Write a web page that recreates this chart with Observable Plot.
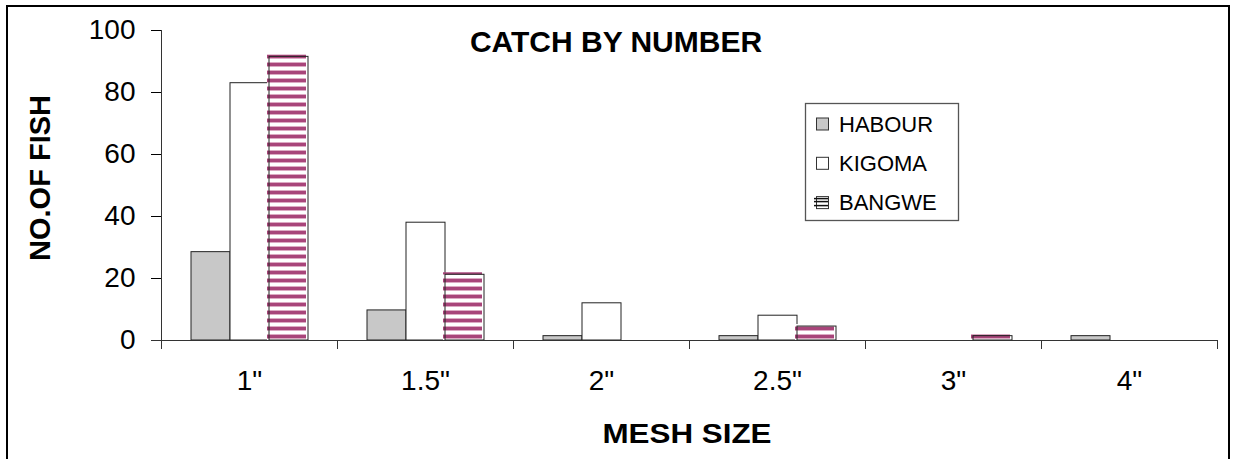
<!DOCTYPE html>
<html>
<head>
<meta charset="utf-8">
<script src="https://cdn.jsdelivr.net/npm/d3@7"></script>
<script src="https://cdn.jsdelivr.net/npm/@observablehq/plot@0.6"></script>
<style>
  html, body { margin: 0; padding: 0; background: #fff; }
</style>
</head>
<body>
<div id="chart"></div>
<script>
// Catch by number per mesh size, for three landing sites
const meshSizes = ['1"', '1.5"', '2"', '2.5"', '3"', '4"'];
const habour = [28.5, 9.7, 1.4, 1.4, 0, 1.4];
const kigoma = [83, 38, 12, 8, 0, 0];
const bangwe = [91.5, 21.2, 0, 4.5, 1.4, 0];
const siteNames = ["HABOUR", "KIGOMA", "BANGWE"];
const yTicks = [0, 20, 40, 60, 80, 100];

// long table: one row per non-empty bar
const rows = [];
[habour, kigoma, bangwe].forEach((vals, s) =>
  vals.forEach((v, i) => {
    if (v > 0) rows.push({ mesh: meshSizes[i], site: siteNames[s], count: v });
  })
);
const ofSite = name => rows.filter(d => d.site === name);

const font = '"Liberation Sans", Arial, Helvetica, sans-serif';

const plot = Plot.plot({
  width: 1233,
  height: 459,
  marginLeft: 160,
  marginRight: 15,
  marginTop: 30,
  marginBottom: 119,
  style: { fontFamily: font, fontSize: "28px", color: "#000", background: "#fff" },
  fx: { domain: meshSizes, padding: 0, axis: "bottom", tickSize: 0, tickPadding: 30, label: null },
  x: { domain: siteNames, paddingInner: 0, paddingOuter: 0.705, axis: null },
  y: { domain: [0, 100], ticks: yTicks, tickSize: 10, tickPadding: 16, label: null },
  marks: [
    Plot.barY(ofSite("HABOUR"), { fx: "mesh", x: "site", y: "count", fill: "#c8c8c8", stroke: "#222", strokeWidth: 1 }),
    Plot.barY(ofSite("KIGOMA"), { fx: "mesh", x: "site", y: "count", fill: "#fff", stroke: "#222", strokeWidth: 1 }),
    // striped fill sits slightly up-left of its outline
    Plot.barY(ofSite("BANGWE"), { fx: "mesh", x: "site", y: "count", fill: "url(#bangwe-stripes)", dx: -2, dy: -2, insetBottom: -2 }),
    Plot.barY(ofSite("BANGWE"), { fx: "mesh", x: "site", y: "count", fill: "none", stroke: "#222", strokeWidth: 1 })
  ]
});

const svg = d3.select(plot);

// horizontal stripe pattern for BANGWE
const defs = svg.insert("defs", ":first-child");
const pat = defs.append("pattern")
  .attr("id", "bangwe-stripes")
  .attr("patternUnits", "userSpaceOnUse")
  .attr("width", 8).attr("height", 8);
pat.append("rect").attr("width", 8).attr("height", 8).attr("fill", "#fff");
pat.append("rect").attr("y", 0).attr("width", 8).attr("height", 1).attr("fill", "#dcaac3");
pat.append("rect").attr("y", 1).attr("width", 8).attr("height", 3).attr("fill", "#a8457a");
pat.append("rect").attr("y", 4).attr("width", 8).attr("height", 1).attr("fill", "#dcaac3");

// axis lines, and category-boundary ticks on the x axis
const y = plot.scale("y");
const fx = plot.scale("fx");
const y0 = y.apply(0);
const yTop = y.apply(100);
const edges = meshSizes.map(m => fx.apply(m));
edges.push(edges[edges.length - 1] + fx.bandwidth);
const left = edges[0];
const right = edges[edges.length - 1];

const axes = svg.append("g").attr("stroke", "#333").attr("stroke-width", 1).attr("fill", "none");
axes.append("line").attr("x1", left + 0.5).attr("x2", left + 0.5).attr("y1", yTop).attr("y2", y0);
axes.append("line").attr("x1", left - 10).attr("x2", right).attr("y1", y0 + 0.5).attr("y2", y0 + 0.5);
edges.forEach(e => {
  axes.append("line").attr("x1", e + 0.5).attr("x2", e + 0.5).attr("y1", y0).attr("y2", y0 + 9);
});

// titles
const txt = svg.append("g").attr("font-family", font).attr("fill", "#000").attr("font-weight", "bold");
txt.append("text")
  .attr("x", 616).attr("y", 52)
  .attr("text-anchor", "middle").attr("font-size", 30)
  .text("CATCH BY NUMBER");
txt.append("text")
  .attr("x", 687).attr("y", 443)
  .attr("text-anchor", "middle").attr("font-size", 28)
  .attr("textLength", 169).attr("lengthAdjust", "spacingAndGlyphs")
  .text("MESH SIZE");
txt.append("text")
  .attr("transform", "translate(50,178) rotate(-90)")
  .attr("text-anchor", "middle").attr("font-size", 29)
  .text("NO.OF FISH");

// legend
const lg = svg.append("g").attr("font-family", font).attr("text-anchor", "start");
lg.append("rect")
  .attr("x", 805.5).attr("y", 103.5).attr("width", 153).attr("height", 117)
  .attr("fill", "#fff").attr("stroke", "#555").attr("stroke-width", 1.3);
const legendFills = ["#c8c8c8", "#fff", "#fff"];
siteNames.forEach((name, i) => {
  const cy = 124 + i * 39.3;
  lg.append("rect")
    .attr("x", 816.5).attr("y", cy - 6).attr("width", 12).attr("height", 12)
    .attr("fill", legendFills[i]).attr("stroke", "#333").attr("stroke-width", 1);
  if (name === "BANGWE") {
    [-4, -1, 3].forEach(o => {
      lg.append("line")
        .attr("x1", 814).attr("x2", 828).attr("y1", cy + o).attr("y2", cy + o)
        .attr("stroke", "#111").attr("stroke-width", 1.5);
    });
  }
  lg.append("text")
    .attr("x", 839).attr("y", cy + 7.7)
    .attr("text-anchor", "start")
    .attr("font-size", 22).attr("fill", "#000")
    .text(name);
});

// outer border of the chart area
svg.append("rect")
  .attr("x", 7).attr("y", 6).attr("width", 1222).attr("height", 480)
  .attr("fill", "none").attr("stroke", "#000").attr("stroke-width", 2);

document.getElementById("chart").append(plot);
</script>
</body>
</html>
